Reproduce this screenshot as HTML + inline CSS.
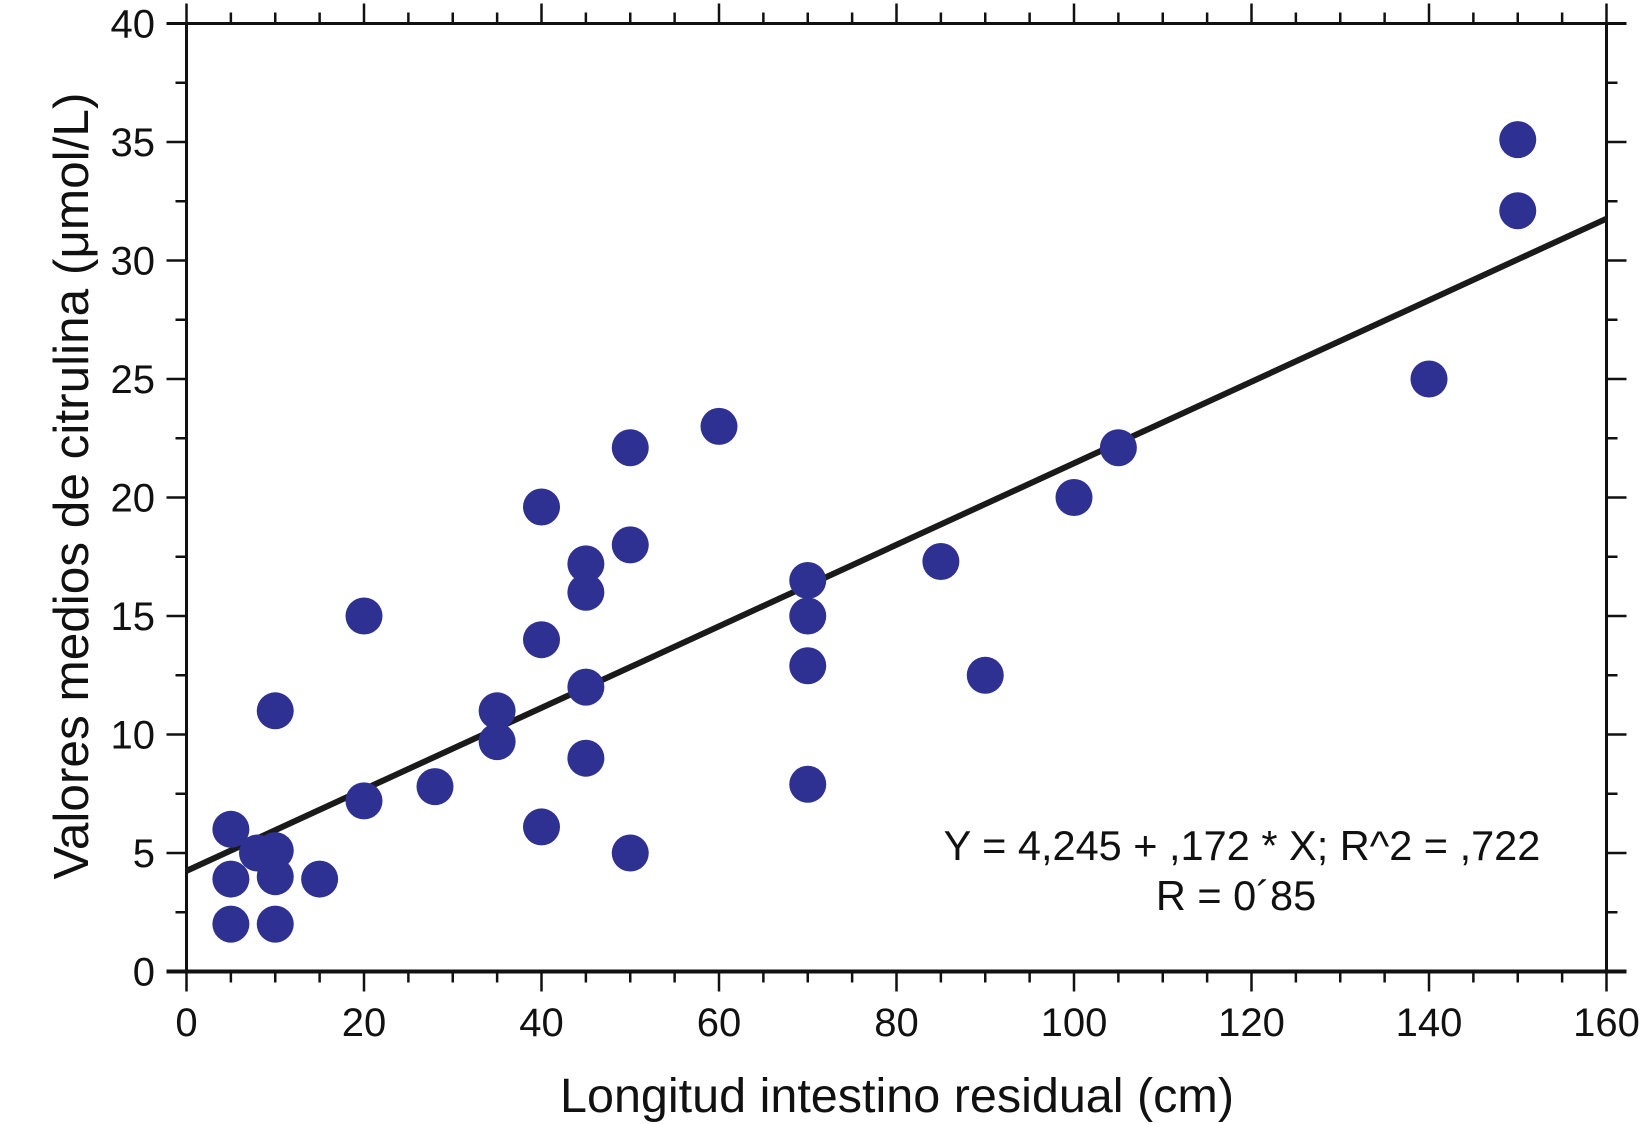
<!DOCTYPE html>
<html><head><meta charset="utf-8"><style>
html,body{margin:0;padding:0;background:#fff}
svg{display:block}
text{font-family:"Liberation Sans",sans-serif;fill:#111}
</style></head><body>
<svg id="chart" width="1641" height="1124" viewBox="0 0 1641 1124">
<g id="axes"></g>
<g id="marks"></g>
<text x="897" y="1112" font-size="48.5" text-anchor="middle">Longitud intestino residual (cm)</text>
<text transform="translate(88,486) rotate(-90)" font-size="49.5" text-anchor="middle">Valores medios de citrulina (μmol/L)</text>
<text x="1242" y="860" font-size="41.5" text-anchor="middle">Y = 4,245 + ,172 * X; R^2 = ,722</text>
<text x="1236" y="910" font-size="41.5" text-anchor="middle">R = 0´85</text>
</svg>
<script>
const xValues=[5,5,5,8,10,10,10,10,15,20,20,28,35,35,40,40,40,45,45,45,45,50,50,50,60,70,70,70,70,85,90,100,105,140,150,150];
const yValues=[6,3.9,2,5,5.1,4,2,11,3.9,15,7.2,7.8,11,9.7,19.6,14,6.1,17.2,16,12,9,22.1,18,5,23,16.5,15,12.9,7.9,17.3,12.5,20,22.1,25,35.1,32.1];
const xTicks=[0,20,40,60,80,100,120,140,160];
const yTicks=[0,5,10,15,20,25,30,35,40];
const intercept=4.245, slope=0.172;
const NS='http://www.w3.org/2000/svg';
const X0=186.5,X1=1606.5,Y0=971.5,Y1=23.5;
function sx(v){return X0+(v-0)/(160-0)*(X1-X0);}
function sy(v){return Y0-(v-0)/(40-0)*(Y0-Y1);}
const axes=document.getElementById('axes'), marks=document.getElementById('marks');
function mk(tag,attrs,parent){const e=document.createElementNS(NS,tag);for(const k in attrs)e.setAttribute(k,attrs[k]);parent.appendChild(e);return e;}
const frame=mk('rect',{x:X0,y:Y1,width:X1-X0,height:Y0-Y1,fill:'none',stroke:'#111','stroke-width':3},axes);


const bl=mk('line',{x1:X0-20,y1:Y0,x2:X1+20,y2:Y0,stroke:'#111','stroke-width':4},axes);


const tl=mk('line',{x1:X0-20,y1:Y1,x2:X1+20,y2:Y1,stroke:'#111','stroke-width':3},axes);


for(let v=0;v<=160;v+=5){
  const major=v%20===0, L=major?20:11, x=sx(v);
  const t=mk('line',{x1:x,y1:Y0,x2:x,y2:Y0+L,stroke:'#111','stroke-width':2.5},axes);
  
  
  const t2=mk('line',{x1:x,y1:Y1,x2:x,y2:Y1-L,stroke:'#111','stroke-width':2.5},axes);
  
  
}
for(let v=0;v<=40;v+=2.5){
  const major=v%5===0, L=major?20:11, y=sy(v);
  const t=mk('line',{x1:X0,y1:y,x2:X0-L,y2:y,stroke:'#111','stroke-width':2.5},axes);
  
  
  const t2=mk('line',{x1:X1,y1:y,x2:X1+L,y2:y,stroke:'#111','stroke-width':2.5},axes);
  
  
}
xTicks.forEach(v=>{
  const t=mk('text',{x:sx(v),y:1036,'font-size':40,'text-anchor':'middle'},axes);
  t.textContent=v;
  
  
});
yTicks.forEach(v=>{
  const t=mk('text',{x:155,y:sy(v)+14,'font-size':40,'text-anchor':'end'},axes);
  t.textContent=v;
  
  
});
const rl=mk('line',{x1:sx(0),y1:sy(intercept),x2:sx(160),y2:sy(intercept+slope*160),stroke:'#1a1a1a','stroke-width':6},marks);


xValues.forEach((xv,i)=>{
  const c=mk('circle',{cx:sx(xv),cy:sy(yValues[i]),r:18.5,fill:'#2e3192'},marks);
  
  
});
</script>
</body></html>
